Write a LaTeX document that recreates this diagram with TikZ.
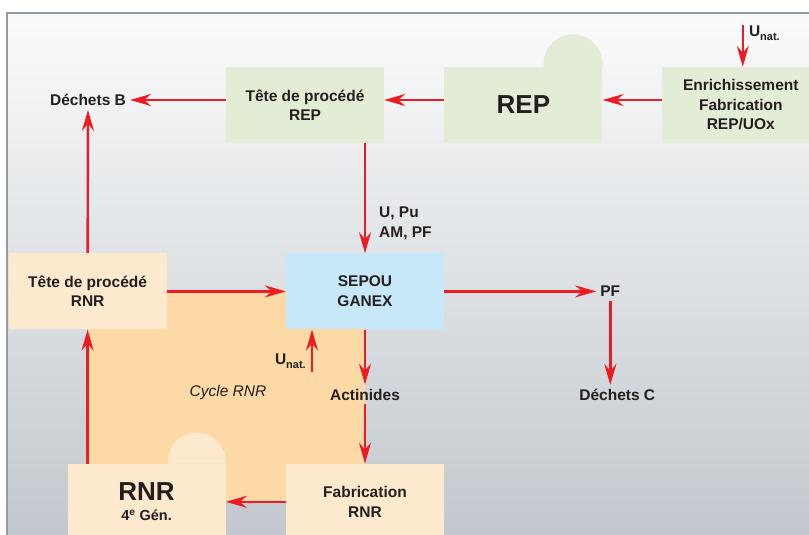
\documentclass[tikz,border=0pt]{standalone}
\usepackage{fontspec}
\setmainfont{Liberation Sans}
\usepackage{tikz}
\usetikzlibrary{arrows.meta,positioning,backgrounds}
\definecolor{rouge}{RGB}{237,28,36}
\definecolor{vertpale}{RGB}{227,237,213}
\definecolor{pechepale}{RGB}{253,233,205}
\definecolor{orangecycle}{RGB}{253,217,166}
\definecolor{bleupale}{RGB}{198,232,248}
\definecolor{texte}{RGB}{35,31,32}
\definecolor{fondhaut}{RGB}{250,251,251}
\definecolor{fondbas}{RGB}{194,200,206}
\definecolor{cadre}{RGB}{151,156,162}
\newcommand{\unat}{U\raisebox{-4pt}{\fontsize{11}{12}\selectfont nat.}}

\begin{document}
\begin{tikzpicture}[x=1pt,y=1pt,
boite/.style={minimum width=158pt,minimum height=76pt,inner sep=0pt,align=center,text=texte,font=\bfseries\fontsize{15.5}{19.5}\selectfont},
boiterep/.style={boite,fill=vertpale},
boiternr/.style={boite,fill=pechepale},
boitesep/.style={boite,fill=bleupale},
etiq/.style={inner sep=4pt,align=center,text=texte,font=\bfseries\fontsize{15.5}{19.5}\selectfont},
cycletxt/.style={inner sep=4pt,text=texte,font=\itshape\fontsize{15.5}{18}\selectfont},
arr/.style={-{Stealth[length=21pt,width=12pt,inset=7pt]},line width=2.4pt,draw=rouge}
]
\useasboundingbox (0,0) rectangle (809,-535);

\node[boiterep] (teterep) at (305,-105) {Tête de procédé\\REP};
\node[boiterep,right=60pt of teterep] (rep) {\fontsize{26}{28}\selectfont REP};
\node[boiterep,right=59pt of rep] (enrich) {Enrichissement\\Fabrication\\REP/UOx};
\node[boitesep,below=110pt of teterep,xshift=60pt] (sepou) {SEPOU\\GANEX};
\node[boiternr,left=119pt of sepou] (teternr) {Tête de procédé\\RNR};
\node[boiternr,below=134pt of sepou] (fabrnr) {Fabrication\\RNR};
\node[boiternr,left=60pt of fabrnr] (rnr) {{\fontsize{26}{28}\selectfont RNR}\\{\fontsize{14.5}{17}\selectfont 4\textsuperscript{e} Gén.}};

\fill[vertpale] (rep.north east) -- ++(0,3) arc[start angle=0,end angle=180,radius=29.5pt] -- ++(0,-3) -- cycle;
\fill[pechepale] (rnr.north east) -- ++(0,2) arc[start angle=0,end angle=180,radius=29pt] -- ++(0,-2) -- cycle;

\node[etiq] (dechetsB) at (88,-100) {Déchets B};
\node[etiq,right=152pt of sepou] (pf) {PF};
\node[etiq,below=84pt of pf,xshift=7pt] (dechetsC) {Déchets C};
\node[etiq,below=55pt of sepou] (actinides) {Actinides};
\node[cycletxt] (cycle) at (228,-392) {Cycle RNR};
\coordinate (source) at ([xshift=2pt,yshift=42pt]enrich.north);
\coordinate (pied) at ([xshift=-53pt,yshift=-42pt]sepou.south);

\draw[arr] (source) -- (source |- enrich.north) node[etiq,pos=0.2,right=1pt] {\unat};
\draw[arr] (enrich.west |- dechetsB) -- (rep.east |- dechetsB);
\draw[arr] (rep.west |- dechetsB) -- (teterep.east |- dechetsB);
\draw[arr] (teterep.west |- dechetsB) -- (dechetsB.east);
\draw[arr] (teterep.south -| sepou.north) -- (sepou.north) node[etiq,pos=0.73,right=9pt,align=left] {U, Pu\\AM, PF};
\draw[arr] (teternr.north) -- (dechetsB.south);
\draw[arr] (teternr.east) -- (sepou.west);
\draw[arr] (sepou.east) -- (pf.west);
\draw[arr] (pf.south) -- (pf.south |- dechetsC.north);
\draw[arr] (pied) -- (pied |- sepou.south) node[etiq,pos=0.25,left=1pt] {\unat};
\draw[arr] (sepou.south) -- (actinides.north);
\draw[arr] (actinides.south) -- (fabrnr.north);
\draw[arr] (fabrnr.west) -- (rnr.east);
\draw[arr] (rnr.north -| teternr.south) -- (teternr.south);

\begin{scope}[on background layer]
\fill[white] (0,0) rectangle (809,-535);
\shade[top color=fondhaut,bottom color=fondbas] (7,-13) rectangle (809,-535);
\fill[orangecycle] (teternr.center) rectangle (sepou.south |- fabrnr.west);
\draw[cadre,line width=1.5pt] (7,-535) -- (7,-13) -- (809,-13);
\end{scope}
\end{tikzpicture}
\end{document}
